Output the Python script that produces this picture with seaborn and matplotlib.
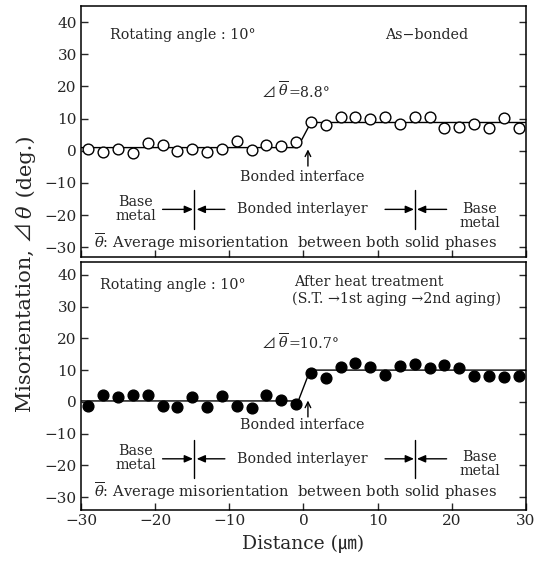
import numpy as np
import pandas as pd
import seaborn as sns
import matplotlib.pyplot as plt
import matplotlib.transforms as mtrans

# data (distance in um, misorientation in deg.)
distance = np.arange(-29, 30, 2)
as_bonded = [0.5, -0.5, 0.5, -0.7, 2.3, 1.9, -0.1, 0.5, -0.5, 0.5,
             3.1, 0.3, 1.7, 1.5, 2.8, 9.0, 8.1, 10.5, 10.5, 10.0,
             10.5, 8.3, 10.5, 10.5, 7.0, 7.3, 8.3, 7.2, 10.2, 7.0]
heat_treated = [-1.3, 2.3, 1.6, 2.1, 2.3, -1.4, -1.6, 1.4, -1.6, 1.7,
                -1.2, -1.9, 2.1, 0.5, -0.7, 9.1, 7.6, 10.9, 12.1, 11.1,
                8.4, 11.3, 11.8, 10.8, 11.6, 10.8, 8.3, 8.1, 7.8, 8.1]

# average lines (base metal level -> interlayer level)
fit_x_top = [-30, -0.8, 1.0, 30]
fit_y_top = [1.0, 1.0, 8.8, 8.8]
fit_x_bot = [-30, -0.7, 0.9, 30]
fit_y_bot = [0.3, 0.3, 10.0, 10.0]

delta_labels = ['8.8', '10.7']

panel_info = [
    dict(y=as_bonded, fx=fit_x_top, fy=fit_y_top, fill='white', ylim=(-33, 45)),
    dict(y=heat_treated, fx=fit_x_bot, fy=fit_y_bot, fill='black', ylim=(-34, 44)),
]

sns.set_style('ticks')
FAM = ['DejaVu Serif', 'Noto Sans CJK JP', 'DejaVu Sans']
plt.rcParams['font.family'] = FAM
plt.rcParams['mathtext.fontset'] = 'dejavuserif'
plt.rcParams['axes.linewidth'] = 1.1

fig = plt.figure(figsize=(5.4, 5.61), dpi=100)
ax1 = fig.add_axes([0.15, 1 - 257 / 561, 0.824, 251 / 561])
ax2 = fig.add_axes([0.15, 1 - 510 / 561, 0.824, 248 / 561])
axes = [ax1, ax2]
rend = fig.canvas.get_renderer()

fs = 10.3


def put_parts(ax, x, y, parts, size=fs, transform=None, vertical=False):
    # write pieces one after another on the same baseline
    base = ax.transData if transform is None else transform
    d = 0
    for s in parts:
        if vertical:
            tr = mtrans.offset_copy(base, fig=fig, x=0, y=d, units='dots')
            t = ax.text(x, y, s, transform=tr, ha='left', va='baseline', fontsize=size,
                        rotation=90, rotation_mode='anchor')
            d += t.get_window_extent(renderer=rend).height
        else:
            tr = mtrans.offset_copy(base, fig=fig, x=d, y=0, units='dots')
            t = ax.text(x, y, s, transform=tr, ha='left', va='baseline', fontsize=size)
            d += t.get_window_extent(renderer=rend).width


for i, (ax, p) in enumerate(zip(axes, panel_info)):
    df = pd.DataFrame({'Distance': distance, 'Mis': p['y']})
    fit = pd.DataFrame({'x': p['fx'], 'y': p['fy']})
    sns.lineplot(data=fit, x='x', y='y', sort=False, color='black', lw=1.0, ax=ax)
    sns.scatterplot(data=df, x='Distance', y='Mis', s=60, color=p['fill'],
                    edgecolor='black', linewidth=1.0, ax=ax, zorder=3)
    ax.set_xlim(-30, 30)
    ax.set_ylim(*p['ylim'])
    ax.set_yticks(range(-30, 41, 10))
    ax.set_xticks(range(-30, 31, 10))
    ax.tick_params(direction='in', length=5, width=1, labelsize=11,
                   left=True, right=True, top=False, bottom=True, pad=3)
    ax.set_xlabel('')
    ax.set_ylabel('')
    for s in ax.spines.values():
        s.set_visible(True)
        s.set_color('black')

    ax.annotate('', xy=(0.6, 1.3), xytext=(0.6, -5.6),
                arrowprops=dict(arrowstyle='->', color='black', lw=1.0))
    ax.text(-0.2, -8.0 if i == 0 else -7.4, 'Bonded interface', ha='center', va='center', fontsize=fs)
    put_parts(ax, -5.65, 16.8, ['⊿', '$\\,\\overline{\\theta}$', '=' + delta_labels[i] + '°'])

    ya = -18.2 if i == 0 else -17.9
    ax.text(-0.1, ya, 'Bonded interlayer', ha='center', va='center', fontsize=fs)
    for xv in (-14.7, 15.1):
        ax.plot([xv, xv], [ya + 6, ya - 6], color='black', lw=1.0)
    arr = dict(arrowstyle='-|>,head_length=0.5,head_width=0.22', color='black', lw=1.0,
               shrinkA=0, shrinkB=0)
    ax.annotate('', xy=(-14.9, ya), xytext=(-19.0, ya), arrowprops=arr)
    ax.annotate('', xy=(-14.4, ya), xytext=(-10.6, ya), arrowprops=arr)
    ax.annotate('', xy=(14.9, ya), xytext=(11.0, ya), arrowprops=arr)
    ax.annotate('', xy=(15.3, ya), xytext=(19.3, ya), arrowprops=arr)
    ax.text(-22.6, -18.0 if i == 0 else -17.8, 'Base\nmetal', ha='center', va='center',
            fontsize=fs, linespacing=1.0)
    ax.text(23.8, -20.2 if i == 0 else -19.5, 'Base\nmetal', ha='center', va='center',
            fontsize=fs, linespacing=1.0)
    ax.text(-28.2, -28.5 if i == 0 else -28.2,
            '$\\overline{\\theta}$: Average misorientation  between both solid phases',
            ha='left', va='center', fontsize=10.6)

ax1.text(-26.1, 36.0, 'Rotating angle : 10°', ha='left', va='center', fontsize=fs)
ax1.text(11.0, 36.0, 'As−bonded', ha='left', va='center', fontsize=fs)
ax1.tick_params(labelbottom=False)

ax2.text(-27.4, 36.8, 'Rotating angle : 10°', ha='left', va='center', fontsize=fs)
ax2.text(-1.3, 37.7, 'After heat treatment', ha='left', va='center', fontsize=fs)
ax2.text(-1.5, 32.4, '(S.T. →1st aging →2nd aging)', ha='left', va='center', fontsize=fs)
ax2.set_xlabel('Distance (㎛)', fontsize=13.5, labelpad=5)

# shared y label, written bottom to top in pieces so theta can be italic
put_parts(ax1, 0.059, 1 - 412 / 561, ['Misorientation, ⊿', '$\\,\\theta$', ' (deg.)'],
          size=15, transform=fig.transFigure, vertical=True)

fig.savefig('out.png', dpi=100)
